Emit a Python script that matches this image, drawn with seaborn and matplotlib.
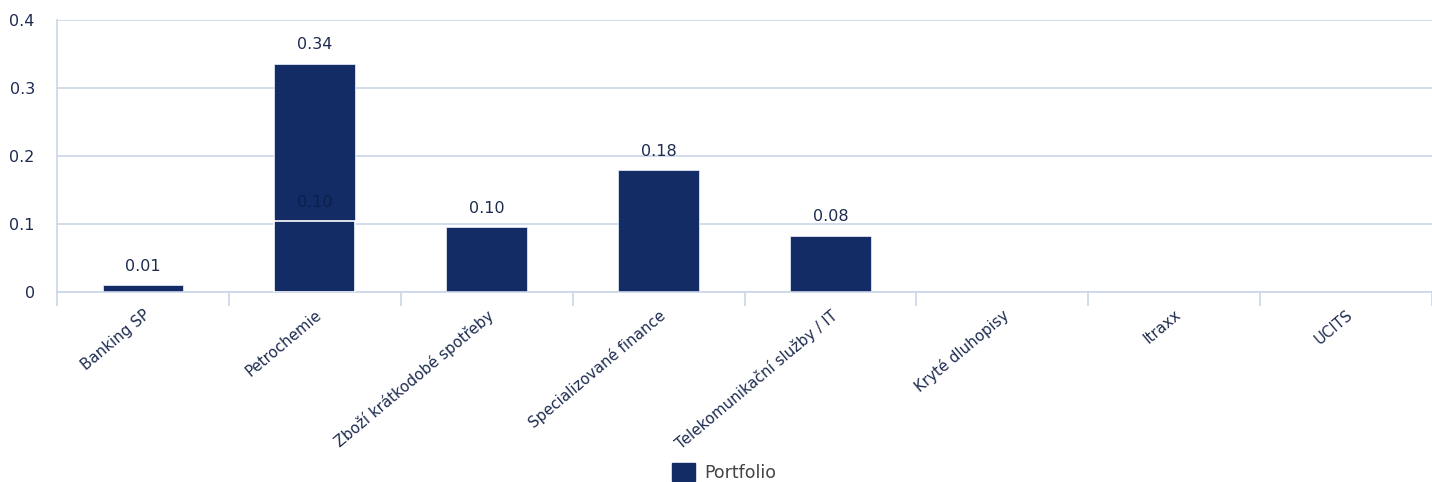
import matplotlib
import matplotlib.pyplot as plt
import pandas as pd
import seaborn as sns
from matplotlib.patches import Patch
from matplotlib.ticker import FixedLocator

matplotlib.use('Agg')

categories = ['Banking SP', 'Petrochemie', 'Zboží krátkodobé spotřeby', 'Specializované finance',
              'Telekomunikační služby / IT', 'Kryté dluhopisy', 'Itraxx', 'UCITS']
portfolio = [0.0105, 0.336, 0.096, 0.179, 0.083, 0.0, 0.0, 0.0]
# second (overlapping) entry for Petrochemie
extra_cat = ['Petrochemie']
extra_val = [0.104]

navy = '#132c66'
grid_c = '#cbd6e8'
text_c = '#1d2b50'

sns.set_style('white')
plt.rcParams['font.family'] = ['DejaVu Sans']

fig, ax = plt.subplots(figsize=(14.32, 4.82), dpi=100)
fig.subplots_adjust(left=57 / 1432, right=1.0, top=1 - 20 / 482, bottom=1 - 292 / 482)

df = pd.DataFrame({'cat': categories, 'val': portfolio})
sns.barplot(data=df, x='cat', y='val', order=categories, color=navy, saturation=1,
            width=0.47, edgecolor='#dfe6f2', linewidth=0.6, ax=ax, zorder=2)
df2 = pd.DataFrame({'cat': extra_cat, 'val': extra_val})
sns.barplot(data=df2, x='cat', y='val', order=categories, color=navy, saturation=1,
            width=0.47, edgecolor='white', linewidth=1.2, ax=ax, zorder=3)

labels = [f'{v:.2f}' if v > 0 else '' for v in portfolio]
ax.bar_label(ax.containers[0], labels=labels, padding=8, fontsize=11.5, color=text_c)
ax.bar_label(ax.containers[1], labels=[f'{v:.2f}' for v in extra_val], padding=8,
             fontsize=11.5, color='#0c1f4c', zorder=4)

ax.set_ylim(0, 0.4)
ax.set_xlim(-0.5, len(categories) - 0.5)
ax.set_yticks([0, 0.1, 0.2, 0.3, 0.4])
ax.set_yticklabels(['0', '0.1', '0.2', '0.3', '0.4'])
ax.yaxis.grid(True, color=grid_c, linewidth=1.2)
ax.set_axisbelow(True)
ax.set_xlabel('')
ax.set_ylabel('')

ax.tick_params(axis='y', length=0, pad=16, labelsize=11.5, labelcolor=text_c)
ax.set_xticks(range(len(categories)))
ax.set_xticklabels(categories, rotation=40, ha='right', rotation_mode='anchor',
                   fontsize=10.8, color=text_c)
ax.tick_params(axis='x', which='major', bottom=False, length=0, pad=11)
ax.xaxis.set_minor_locator(FixedLocator([i - 0.5 for i in range(len(categories) + 1)]))
ax.tick_params(axis='x', which='minor', bottom=True, length=10, width=1.2, color=grid_c)
for lbl in ax.get_xticklabels():
    lbl.set_x(lbl.get_position()[0] + 0.03)

for s in ['top', 'right']:
    ax.spines[s].set_visible(False)
for s in ['left', 'bottom']:
    ax.spines[s].set_color(grid_c)
    ax.spines[s].set_linewidth(1.2)

handles = [Patch(facecolor=navy, edgecolor=navy, label='Portfolio')]
fig.legend(handles=handles, loc='lower center', bbox_to_anchor=(0.5056, -0.032), frameon=False,
           fontsize=12.5, labelcolor='#444444', handlelength=1.35, handleheight=1.15,
           handletextpad=0.5)

fig.savefig('out.png', dpi=100)
